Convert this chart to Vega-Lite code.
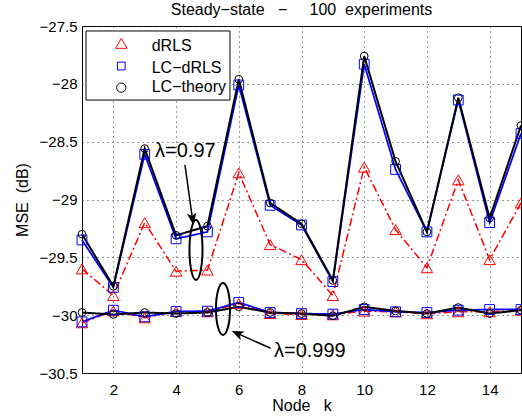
{
  "$schema": "https://vega.github.io/schema/vega-lite/v6.json",
  "width": 439,
  "height": 347,
  "autosize": "none",
  "padding": {"left": 82, "top": 26, "right": 1, "bottom": 45},
  "background": "white",
  "title": {"text": "Steady−state\u00a0\u00a0\u00a0−\u00a0\u00a0\u00a0\u00a0\u00a0100\u00a0\u00a0experiments", "font": "Liberation Sans", "fontSize": 16, "fontWeight": "normal", "color": "black", "offset": 1, "frame": "group"},
  "config": {
    "view": {"stroke": "black", "strokeWidth": 1},
    "axis": {
      "labelFont": "Liberation Sans", "labelFontSize": 15, "labelColor": "black",
      "titleFont": "Liberation Sans", "titleFontSize": 16, "titleFontWeight": "normal", "titleColor": "black",
      "domain": false, "ticks": false,
      "grid": true, "gridDash": [1, 4], "gridColor": "#333", "gridWidth": 1
    },
    "axisX": {"labelPadding": 9, "titlePadding": 0},
    "axisY": {"labelPadding": 5, "titlePadding": 9}
  },
  "datasets": {
    "main": [
      {"node":1,"lambda":"0.97","series":"dRLS","mse":-29.60},
      {"node":2,"lambda":"0.97","series":"dRLS","mse":-29.83},
      {"node":3,"lambda":"0.97","series":"dRLS","mse":-29.20},
      {"node":4,"lambda":"0.97","series":"dRLS","mse":-29.62},
      {"node":5,"lambda":"0.97","series":"dRLS","mse":-29.61},
      {"node":6,"lambda":"0.97","series":"dRLS","mse":-28.77},
      {"node":7,"lambda":"0.97","series":"dRLS","mse":-29.39},
      {"node":8,"lambda":"0.97","series":"dRLS","mse":-29.52},
      {"node":9,"lambda":"0.97","series":"dRLS","mse":-29.83},
      {"node":10,"lambda":"0.97","series":"dRLS","mse":-28.72},
      {"node":11,"lambda":"0.97","series":"dRLS","mse":-29.26},
      {"node":12,"lambda":"0.97","series":"dRLS","mse":-29.59},
      {"node":13,"lambda":"0.97","series":"dRLS","mse":-28.83},
      {"node":14,"lambda":"0.97","series":"dRLS","mse":-29.52},
      {"node":15,"lambda":"0.97","series":"dRLS","mse":-29.03},
      {"node":1,"lambda":"0.999","series":"dRLS","mse":-30.066},
      {"node":2,"lambda":"0.999","series":"dRLS","mse":-29.963},
      {"node":3,"lambda":"0.999","series":"dRLS","mse":-30.023},
      {"node":4,"lambda":"0.999","series":"dRLS","mse":-29.968},
      {"node":5,"lambda":"0.999","series":"dRLS","mse":-29.971},
      {"node":6,"lambda":"0.999","series":"dRLS","mse":-29.900},
      {"node":7,"lambda":"0.999","series":"dRLS","mse":-29.986},
      {"node":8,"lambda":"0.999","series":"dRLS","mse":-29.994},
      {"node":9,"lambda":"0.999","series":"dRLS","mse":-29.997},
      {"node":10,"lambda":"0.999","series":"dRLS","mse":-29.965},
      {"node":11,"lambda":"0.999","series":"dRLS","mse":-29.971},
      {"node":12,"lambda":"0.999","series":"dRLS","mse":-29.988},
      {"node":13,"lambda":"0.999","series":"dRLS","mse":-29.971},
      {"node":14,"lambda":"0.999","series":"dRLS","mse":-29.971},
      {"node":15,"lambda":"0.999","series":"dRLS","mse":-29.957},
      {"node":1,"lambda":"0.97","series":"LC−dRLS","mse":-29.35},
      {"node":2,"lambda":"0.97","series":"LC−dRLS","mse":-29.76},
      {"node":3,"lambda":"0.97","series":"LC−dRLS","mse":-28.61},
      {"node":4,"lambda":"0.97","series":"LC−dRLS","mse":-29.34},
      {"node":5,"lambda":"0.97","series":"LC−dRLS","mse":-29.28},
      {"node":6,"lambda":"0.97","series":"LC−dRLS","mse":-28.01},
      {"node":7,"lambda":"0.97","series":"LC−dRLS","mse":-29.05},
      {"node":8,"lambda":"0.97","series":"LC−dRLS","mse":-29.22},
      {"node":9,"lambda":"0.97","series":"LC−dRLS","mse":-29.71},
      {"node":10,"lambda":"0.97","series":"LC−dRLS","mse":-27.83},
      {"node":11,"lambda":"0.97","series":"LC−dRLS","mse":-28.74},
      {"node":12,"lambda":"0.97","series":"LC−dRLS","mse":-29.28},
      {"node":13,"lambda":"0.97","series":"LC−dRLS","mse":-28.14},
      {"node":14,"lambda":"0.97","series":"LC−dRLS","mse":-29.20},
      {"node":15,"lambda":"0.97","series":"LC−dRLS","mse":-28.43},
      {"node":1,"lambda":"0.999","series":"LC−dRLS","mse":-30.058},
      {"node":2,"lambda":"0.999","series":"LC−dRLS","mse":-29.957},
      {"node":3,"lambda":"0.999","series":"LC−dRLS","mse":-30.014},
      {"node":4,"lambda":"0.999","series":"LC−dRLS","mse":-29.968},
      {"node":5,"lambda":"0.999","series":"LC−dRLS","mse":-29.965},
      {"node":6,"lambda":"0.999","series":"LC−dRLS","mse":-29.890},
      {"node":7,"lambda":"0.999","series":"LC−dRLS","mse":-29.977},
      {"node":8,"lambda":"0.999","series":"LC−dRLS","mse":-29.986},
      {"node":9,"lambda":"0.999","series":"LC−dRLS","mse":-29.991},
      {"node":10,"lambda":"0.999","series":"LC−dRLS","mse":-29.951},
      {"node":11,"lambda":"0.999","series":"LC−dRLS","mse":-29.971},
      {"node":12,"lambda":"0.999","series":"LC−dRLS","mse":-29.977},
      {"node":13,"lambda":"0.999","series":"LC−dRLS","mse":-29.957},
      {"node":14,"lambda":"0.999","series":"LC−dRLS","mse":-29.951},
      {"node":15,"lambda":"0.999","series":"LC−dRLS","mse":-29.951},
      {"node":1,"lambda":"0.97","series":"LC−theory","mse":-29.30},
      {"node":2,"lambda":"0.97","series":"LC−theory","mse":-29.75},
      {"node":3,"lambda":"0.97","series":"LC−theory","mse":-28.56},
      {"node":4,"lambda":"0.97","series":"LC−theory","mse":-29.31},
      {"node":5,"lambda":"0.97","series":"LC−theory","mse":-29.23},
      {"node":6,"lambda":"0.97","series":"LC−theory","mse":-27.96},
      {"node":7,"lambda":"0.97","series":"LC−theory","mse":-29.03},
      {"node":8,"lambda":"0.97","series":"LC−theory","mse":-29.21},
      {"node":9,"lambda":"0.97","series":"LC−theory","mse":-29.70},
      {"node":10,"lambda":"0.97","series":"LC−theory","mse":-27.76},
      {"node":11,"lambda":"0.97","series":"LC−theory","mse":-28.67},
      {"node":12,"lambda":"0.97","series":"LC−theory","mse":-29.28},
      {"node":13,"lambda":"0.97","series":"LC−theory","mse":-28.12},
      {"node":14,"lambda":"0.97","series":"LC−theory","mse":-29.16},
      {"node":15,"lambda":"0.97","series":"LC−theory","mse":-28.36},
      {"node":1,"lambda":"0.999","series":"LC−theory","mse":-29.977},
      {"node":2,"lambda":"0.999","series":"LC−theory","mse":-29.994},
      {"node":3,"lambda":"0.999","series":"LC−theory","mse":-29.977},
      {"node":4,"lambda":"0.999","series":"LC−theory","mse":-29.986},
      {"node":5,"lambda":"0.999","series":"LC−theory","mse":-29.977},
      {"node":6,"lambda":"0.999","series":"LC−theory","mse":-29.928},
      {"node":7,"lambda":"0.999","series":"LC−theory","mse":-29.977},
      {"node":8,"lambda":"0.999","series":"LC−theory","mse":-29.986},
      {"node":9,"lambda":"0.999","series":"LC−theory","mse":-30.006},
      {"node":10,"lambda":"0.999","series":"LC−theory","mse":-29.928},
      {"node":11,"lambda":"0.999","series":"LC−theory","mse":-29.963},
      {"node":12,"lambda":"0.999","series":"LC−theory","mse":-29.986},
      {"node":13,"lambda":"0.999","series":"LC−theory","mse":-29.934},
      {"node":14,"lambda":"0.999","series":"LC−theory","mse":-29.986},
      {"node":15,"lambda":"0.999","series":"LC−theory","mse":-29.957}
    ],
    "one": [{}]
  },
  "layer": [
    {
      "data": {"name": "main"},
      "mark": {"type": "line"},
      "encoding": {
        "x": {"field": "node", "type": "quantitative", "scale": {"domain": [1, 15], "nice": false, "zero": false}, "axis": {"values": [2, 4, 6, 8, 10, 12, 14], "title": "Node\u00a0\u00a0\u00a0k"}},
        "y": {"field": "mse", "type": "quantitative", "scale": {"domain": [-30.5, -27.5], "nice": false, "zero": false}, "axis": {"values": [-30.5, -30, -29.5, -29, -28.5, -28, -27.5], "format": "~g", "title": "MSE\u00a0\u00a0(dB)"}},
        "detail": {"field": "lambda"},
        "stroke": {"field": "series", "type": "ordinal", "scale": {"domain": ["dRLS", "LC−dRLS", "LC−theory"], "range": ["#ff0000", "#0000ff", "#000000"]}, "legend": null},
        "strokeDash": {"field": "series", "type": "ordinal", "scale": {"domain": ["dRLS", "LC−dRLS", "LC−theory"], "range": [[8, 3, 2, 3], [1, 0], [1, 0]]}, "legend": null},
        "strokeWidth": {"field": "series", "type": "ordinal", "scale": {"domain": ["dRLS", "LC−dRLS", "LC−theory"], "range": [1.5, 2, 2]}, "legend": null}
      }
    },
    {
      "data": {"name": "main"},
      "mark": {"type": "point", "filled": false, "strokeWidth": 1, "opacity": 1},
      "encoding": {
        "x": {"field": "node", "type": "quantitative"},
        "y": {"field": "mse", "type": "quantitative"},
        "color": {"field": "series", "type": "ordinal", "scale": {"domain": ["dRLS", "LC−dRLS", "LC−theory"], "range": ["#ff0000", "#0000ff", "#000000"]}, "legend": null},
        "shape": {"field": "series", "type": "ordinal", "scale": {"domain": ["dRLS", "LC−dRLS", "LC−theory"], "range": ["triangle-up", "square", "circle"]}, "legend": null},
        "size": {"field": "series", "type": "ordinal", "scale": {"domain": ["dRLS", "LC−dRLS", "LC−theory"], "range": [132, 60, 86]}, "legend": null}
      }
    },
    {
      "data": {"name": "one"},
      "mark": {"type": "text", "align": "left", "baseline": "alphabetic", "fontSize": 20, "font": "Liberation Sans", "color": "black", "text": "λ=0.97"},
      "encoding": {"x": {"datum": 3.33}, "y": {"datum": -28.63}}
    },
    {
      "data": {"name": "one"},
      "mark": {"type": "text", "align": "left", "baseline": "alphabetic", "fontSize": 20, "font": "Liberation Sans", "color": "black", "text": "λ=0.999"},
      "encoding": {"x": {"datum": 7.122}, "y": {"datum": -30.364}}
    },
    {
      "data": {"name": "one"},
      "mark": {"type": "rule", "strokeWidth": 1.5, "color": "black"},
      "encoding": {"x": {"datum": 4.284}, "y": {"datum": -28.701}, "x2": {"datum": 4.524}, "y2": {"datum": -29.169}}
    },
    {
      "data": {"name": "one"},
      "mark": {"type": "rule", "strokeWidth": 1.5, "color": "black"},
      "encoding": {"x": {"datum": 7.017}, "y": {"datum": -30.286}, "x2": {"datum": 5.949}, "y2": {"datum": -30.157}}
    },
    {
      "data": {"name": "one"},
      "mark": {"type": "point", "shape": "M0,1L-0.8,-1L0,-0.5L0.8,-1Z", "filled": true, "color": "black", "size": 144, "angle": -7.9, "opacity": 1},
      "encoding": {"x": {"datum": 4.524}, "y": {"datum": -29.169}}
    },
    {
      "data": {"name": "one"},
      "mark": {"type": "point", "shape": "M0,1L-0.8,-1L0,-0.5L0.8,-1Z", "filled": true, "color": "black", "size": 144, "angle": 114, "opacity": 1},
      "encoding": {"x": {"datum": 5.949}, "y": {"datum": -30.157}}
    },
    {
      "data": {"name": "one"},
      "mark": {"type": "point", "shape": "M0,-1A0.217,1 0 1,1 0,1A0.217,1 0 1,1 0,-1Z", "filled": false, "color": "black", "strokeWidth": 2, "size": 3600, "opacity": 1},
      "encoding": {"x": {"datum": 4.635}, "y": {"datum": -29.436}}
    },
    {
      "data": {"name": "one"},
      "mark": {"type": "point", "shape": "M0,-1A0.27,1 0 1,1 0,1A0.27,1 0 1,1 0,-1Z", "filled": false, "color": "black", "strokeWidth": 2, "size": 2704, "opacity": 1},
      "encoding": {"x": {"datum": 5.496}, "y": {"datum": -29.946}}
    },
    {
      "data": {"name": "one"},
      "mark": {"type": "rect", "fill": "white", "stroke": "black", "strokeWidth": 1},
      "encoding": {"x": {"datum": 1.128}, "x2": {"datum": 5.719}, "y": {"datum": -27.543}, "y2": {"datum": -28.14}}
    },
    {
      "data": {"name": "one"},
      "mark": {"type": "point", "shape": "triangle-up", "filled": false, "color": "#ff0000", "size": 132, "strokeWidth": 1, "opacity": 1},
      "encoding": {"x": {"datum": 2.253}, "y": {"datum": -27.65}}
    },
    {
      "data": {"name": "one"},
      "mark": {"type": "point", "shape": "square", "filled": false, "color": "#0000ff", "size": 60, "strokeWidth": 1, "opacity": 1},
      "encoding": {"x": {"datum": 2.253}, "y": {"datum": -27.846}}
    },
    {
      "data": {"name": "one"},
      "mark": {"type": "point", "shape": "circle", "filled": false, "color": "#000000", "size": 86, "strokeWidth": 1, "opacity": 1},
      "encoding": {"x": {"datum": 2.253}, "y": {"datum": -28.033}}
    },
    {
      "data": {"name": "one"},
      "mark": {"type": "text", "align": "left", "baseline": "alphabetic", "fontSize": 16, "font": "Liberation Sans", "color": "black", "text": "dRLS"},
      "encoding": {"x": {"datum": 3.223}, "y": {"datum": -27.716}}
    },
    {
      "data": {"name": "one"},
      "mark": {"type": "text", "align": "left", "baseline": "alphabetic", "fontSize": 16, "font": "Liberation Sans", "color": "black", "text": "LC−dRLS"},
      "encoding": {"x": {"datum": 3.223}, "y": {"datum": -27.904}}
    },
    {
      "data": {"name": "one"},
      "mark": {"type": "text", "align": "left", "baseline": "alphabetic", "fontSize": 16, "font": "Liberation Sans", "color": "black", "text": "LC−theory"},
      "encoding": {"x": {"datum": 3.223}, "y": {"datum": -28.07}}
    }
  ]
}
